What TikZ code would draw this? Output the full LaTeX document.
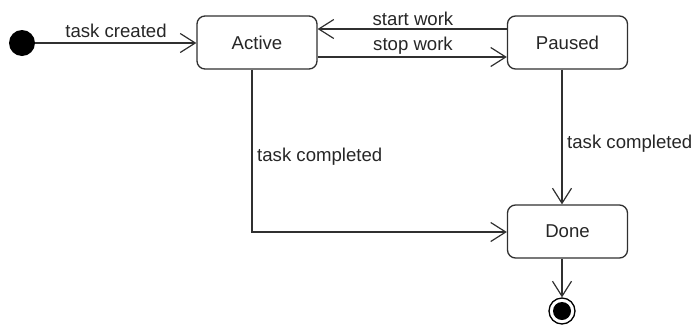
\documentclass[tikz,border=0pt]{standalone}
\usepackage{fontspec}
\setmainfont{Liberation Sans}
\usetikzlibrary{arrows.meta}
\definecolor{ink}{HTML}{303030}
\definecolor{txt}{HTML}{262626}
\begin{document}
\begin{tikzpicture}[x=1pt,y=-1pt,
  statebox/.style={draw=ink,line width=1.3pt,fill=white,rounded corners=8pt,minimum width=120pt,minimum height=53pt,inner sep=0pt,font=\fontsize{18.6}{20}\selectfont,text=txt},
  trans/.style={draw=ink,line width=1.2pt,-{Straight Barb[length=15pt,width=19pt,line width=1.2pt]}},
  lbl/.style={font=\fontsize{18.6}{20}\selectfont,text=txt,inner sep=0pt,anchor=base}]
\useasboundingbox (0,0) rectangle (694,325);
\node[statebox] (active) at (257,42.5) {Active};
\node[statebox] (paused) at (567.5,42.5) {Paused};
\node[statebox] (done) at (567.5,231.5) {Done};
\node[circle,fill=black,minimum size=26pt,inner sep=0pt] (init) at (22,43) {};
\node[circle,draw=black,line width=1.3pt,fill=white,minimum size=26pt,inner sep=0pt] (fin) at (562,311) {};
\node[circle,fill=black,minimum size=18pt,inner sep=0pt] (findot) at (562,311) {};
\coordinate (bend) at (252,232);
% transitions
\draw[trans] (init) -- (active.west |- init);
\draw[trans] ([yshift=13.5pt]paused.west) -- ([yshift=13.5pt]active.east);
\draw[trans] ([yshift=-14.5pt]active.east) -- ([yshift=-14.5pt]paused.west);
\draw[trans] (active.south -| bend) -- (bend) -- (bend -| done.west);
\draw[trans] (paused.south -| fin) -- (done.north -| fin);
\draw[trans] (done.south -| fin) -- (fin.north);
% labels
\node[lbl] (l1) at (116,37) {task created};
\node[lbl] (l2) at (413,25) {start work};
\node[lbl] (l3) at (413,50) {stop work};
\node[lbl,anchor=base west] (l4) at (257,161) {task completed};
\node[lbl,anchor=base west] (l5) at (567,148) {task completed};
\end{tikzpicture}
\end{document}
